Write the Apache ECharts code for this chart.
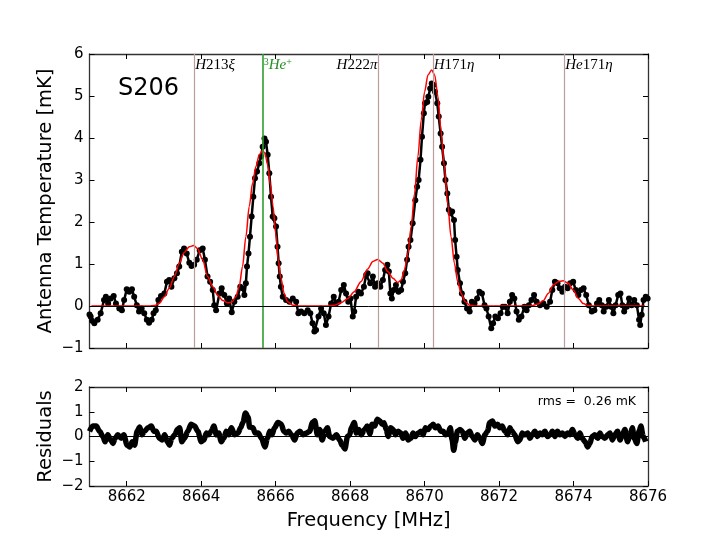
<!DOCTYPE html>
<html>
<head>
<meta charset="utf-8">
<script src="https://cdn.jsdelivr.net/npm/echarts@6.0.0/dist/echarts.min.js"></script>
<style>html,body{margin:0;padding:0;background:#fff;}#c{width:720px;height:540px;}</style>
</head>
<body>
<div id="c"></div>
<script>
// ---------------- data ----------------
const freqTicks = [8662, 8664, 8666, 8668, 8670, 8672, 8674, 8676];
const tempTicksRange = [-1, 6];
const residTicksRange = [-2, 2];

// observed spectrum [MHz, mK]
const spectrum = [
[8661.00,-0.20],[8661.03,-0.25],[8661.07,-0.35],[8661.13,-0.41],[8661.22,-0.33],[8661.30,-0.17],[8661.39,0.14],[8661.44,0.22],[8661.50,0.06],[8661.57,0.18],[8661.65,0.24],[8661.71,0.06],[8661.80,-0.06],[8661.87,-0.10],[8661.93,0.14],[8662.00,0.40],[8662.07,0.34],[8662.14,0.40],[8662.20,0.22],[8662.27,0.02],[8662.33,-0.13],[8662.40,-0.06],[8662.47,-0.17],[8662.54,-0.33],[8662.60,-0.40],[8662.67,-0.33],[8662.72,-0.17],[8662.78,-0.10],[8662.85,0.14],[8662.92,0.24],[8663.01,0.30],[8663.08,0.58],[8663.14,0.62],[8663.20,0.46],[8663.28,0.66],[8663.35,0.78],[8663.41,0.94],[8663.48,1.29],[8663.54,1.37],[8663.61,1.25],[8663.68,1.03],[8663.74,0.95],[8663.81,0.98],[8663.88,1.10],[8663.96,1.33],[8664.04,1.37],[8664.10,1.10],[8664.17,0.70],[8664.24,0.58],[8664.31,0.38],[8664.35,0.02],[8664.40,-0.10],[8664.49,0.30],[8664.55,0.42],[8664.62,0.26],[8664.69,0.06],[8664.75,0.18],[8664.82,-0.15],
[8664.89,0.10],[8664.98,0.22],[8665.05,0.46],[8665.11,0.42],[8665.16,0.26],[8665.20,0.54],[8665.23,0.94],[8665.27,1.25],[8665.31,1.65],[8665.355,2.13],[8665.40,2.60],[8665.445,3.04],[8665.50,3.20],[8665.56,3.40],[8665.61,3.56],[8665.65,3.79],[8665.70,3.99],[8665.74,3.91],[8665.785,3.60],[8665.83,3.16],[8665.875,2.60],[8665.92,2.13],[8665.965,2.09],[8666.01,1.89],[8666.05,1.41],[8666.08,1.02],[8666.11,0.70],[8666.14,0.46],[8666.19,0.22],[8666.28,0.14],[8666.37,0.10],[8666.46,0.18],[8666.55,0.10],[8666.61,-0.17],[8666.68,-0.13],[8666.77,-0.17],[8666.86,-0.10],[8666.93,-0.17],[8666.99,-0.41],[8667.04,-0.61],[8667.085,-0.57],[8667.15,-0.25],[8667.22,-0.06],[8667.29,-0.17],[8667.35,-0.45],[8667.42,-0.25],[8667.49,0.06],[8667.56,0.22],[8667.62,0.06],[8667.69,0.10],[8667.76,0.38],[8667.83,0.50],[8667.89,0.30],[8667.95,0.10],[8668.01,0.18],[8668.07,-0.25],[8668.11,-0.13],[8668.16,0.22],[8668.22,0.34],[8668.29,0.30],[8668.37,0.46],[8668.43,0.74],
[8668.47,0.78],[8668.54,0.54],[8668.61,0.70],[8668.67,0.46],[8668.74,0.54],[8668.81,0.46],[8668.88,0.62],[8668.94,0.86],[8669.00,0.98],[8669.04,0.82],[8669.08,0.30],[8669.12,0.18],[8669.17,0.38],[8669.23,0.50],[8669.30,0.34],[8669.37,0.38],[8669.42,0.58],[8669.48,0.78],[8669.53,1.10],[8669.57,1.41],[8669.62,1.57],[8669.68,1.97],[8669.75,2.52],[8669.80,2.84],[8669.84,3.00],[8669.89,3.48],[8669.93,4.03],[8669.98,4.59],[8670.01,4.83],[8670.07,4.86],[8670.10,4.98],[8670.15,5.18],[8670.19,5.30],[8670.24,5.26],[8670.28,5.10],[8670.34,4.83],[8670.38,4.51],[8670.43,4.11],[8670.47,3.79],[8670.52,3.40],[8670.56,3.00],[8670.61,2.68],[8670.65,2.29],[8670.70,2.21],[8670.74,2.25],[8670.79,2.05],[8670.82,1.57],[8670.86,1.17],[8670.89,0.86],[8670.95,0.54],[8671.00,0.30],[8671.07,0.10],[8671.14,-0.06],[8671.21,-0.13],[8671.27,0.10],[8671.34,0.06],[8671.41,0.18],[8671.47,0.34],[8671.54,0.30],[8671.61,0.02],[8671.66,-0.06],[8671.72,-0.25],[8671.79,-0.53],[8671.84,-0.41],[8671.90,-0.25],[8671.97,-0.29],[8672.04,-0.17],[8672.10,-0.02],
[8672.16,-0.02],[8672.23,-0.17],[8672.29,0.10],[8672.35,0.26],[8672.41,0.18],[8672.47,-0.13],[8672.53,-0.33],[8672.60,-0.25],[8672.68,-0.02],[8672.74,-0.10],[8672.80,0.02],[8672.87,0.14],[8672.94,0.26],[8673.01,0.10],[8673.10,0.02],[8673.19,0.06],[8673.28,-0.02],[8673.37,0.10],[8673.43,0.38],[8673.50,0.58],[8673.57,0.54],[8673.63,0.42],[8673.70,0.34],[8673.77,0.46],[8673.84,0.42],[8673.91,0.54],[8673.99,0.58],[8674.06,0.38],[8674.13,0.26],[8674.20,0.38],[8674.27,0.42],[8674.34,0.26],[8674.41,0.02],[8674.49,-0.13],[8674.56,-0.10],[8674.63,0.06],[8674.69,0.14],[8674.76,0.02],[8674.81,-0.13],[8674.88,-0.02],[8674.95,0.14],[8675.01,-0.02],[8675.07,-0.17],[8675.13,0.02],[8675.20,0.26],[8675.26,0.30],[8675.31,0.02],[8675.36,-0.13],[8675.43,-0.02],[8675.49,0.18],[8675.56,0.02],[8675.63,0.14],[8675.70,0.02],[8675.76,-0.33],[8675.79,-0.45],[8675.83,-0.21],[8675.88,0.14],[8675.94,0.22],[8675.99,0.18]
];

// fitted model (red) [MHz, mK]
const fitModel = [
[8661.05,0],[8662.60,0],[8662.74,0.01],[8662.87,0.06],[8663.01,0.22],[8663.14,0.42],[8663.28,0.70],[8663.41,1.02],[8663.54,1.27],[8663.68,1.41],[8663.80,1.44],[8663.90,1.37],[8664.04,1.10],[8664.17,0.70],[8664.31,0.46],[8664.44,0.26],[8664.58,0.13],[8664.71,0.08],[8664.82,0.09],[8664.93,0.22],[8665.02,0.46],[8665.11,0.94],[8665.20,1.65],[8665.29,2.37],[8665.38,2.92],[8665.47,3.32],[8665.56,3.60],[8665.65,3.70],[8665.71,3.64],[8665.785,3.36],[8665.86,2.88],[8665.93,2.37],[8666.00,1.73],[8666.07,1.10],[8666.14,0.66],[8666.23,0.30],[8666.32,0.10],[8666.46,0.02],[8666.60,0],[8667.40,0],[8667.58,0.02],[8667.76,0.08],[8667.94,0.18],[8668.11,0.34],[8668.29,0.58],[8668.47,0.88],[8668.61,1.06],[8668.74,1.11],[8668.88,1.02],[8669.01,0.82],[8669.15,0.66],[8669.28,0.56],[8669.37,0.62],[8669.46,0.86],[8669.55,1.25],[8669.64,1.89],[8669.73,2.68],[8669.82,3.56],[8669.91,4.43],[8670.00,5.10],[8670.09,5.50],[8670.19,5.62],[8670.27,5.50],[8670.36,4.98],[8670.44,4.19],[8670.53,3.32],[8670.62,2.44],[8670.71,1.65],[8670.80,1.02],[8670.89,0.58],[8670.98,0.30],[8671.09,0.10],[8671.21,0.02],[8671.35,0],[8672.85,0],[8673.05,0.05],[8673.19,0.13],[8673.32,0.30],[8673.46,0.50],[8673.59,0.58],[8673.72,0.60],[8673.86,0.54],[8673.99,0.38],[8674.13,0.18],[8674.26,0.06],[8674.40,0.01],[8674.55,0],[8675.92,0]
];

// residuals [MHz, mK]
const residuals = [
[8661.00,0.21],[8661.09,0.42],[8661.18,0.42],[8661.27,0.21],[8661.36,0],[8661.42,-0.21],[8661.49,0.07],[8661.57,-0.14],[8661.63,-0.28],[8661.69,-0.07],[8661.76,0.07],[8661.85,-0.07],[8661.92,0.07],[8662.01,-0.35],[8662.08,-0.42],[8662.15,-0.21],[8662.21,-0.35],[8662.28,0.21],[8662.35,0.38],[8662.41,0.07],[8662.48,0.21],[8662.57,0.35],[8662.66,0.42],[8662.73,0.21],[8662.79,0.21],[8662.88,-0.07],[8662.95,-0.14],[8663.02,0.07],[8663.09,-0.21],[8663.15,-0.35],[8663.21,-0.07],[8663.29,0.07],[8663.36,0.28],[8663.42,0.35],[8663.48,-0.21],[8663.55,-0.07],[8663.64,0.21],[8663.73,0.50],[8663.82,0.42],[8663.91,0.21],[8664.00,-0.21],[8664.07,-0.14],[8664.14,0.14],[8664.20,0.07],[8664.27,0.21],[8664.34,0.42],[8664.41,0.07],[8664.47,0.14],[8664.54,-0.21],[8664.61,-0.07],[8664.67,0.21],[8664.74,0.07],[8664.81,0.35],[8664.90,0.07],[8664.99,0.14],[8665.06,0.35],[8665.12,0.57],[8665.19,0.95],[8665.26,0.78],[8665.30,0.38],[8665.39,0.35],[8665.45,0.14],[8665.53,0.14],[8665.62,-0.07],[8665.71,-0.42],[8665.78,-0.07],[8665.84,0.21],[8665.90,0.07],[8665.97,0.35],[8666.06,0.57],[8666.15,0.50],[8666.22,0.21],[8666.29,0.14],[8666.35,0.21],[8666.42,0.07],[8666.51,-0.14],[8666.58,0.14],[8666.65,0.21],[8666.74,0.07],[8666.83,0.14],[8666.91,0.21],[8666.99,0.57],[8667.05,0.64],[8667.12,0.07],[8667.18,0.28],[8667.25,-0.14],[8667.32,0.21],[8667.39,0.35],[8667.45,0],[8667.54,-0.07],[8667.63,0.07],[8667.72,-0.14],[8667.78,-0.35],[8667.86,-0.50],[8667.93,0],[8667.99,0.07],[8668.03,0.35],[8668.11,0.57],[8668.17,0.14],[8668.23,0.28],[8668.30,0.07],[8668.39,0.28],[8668.46,0.42],[8668.53,0.10],
[8668.59,0.49],[8668.66,0.42],[8668.73,0.70],[8668.80,0.63],[8668.86,0.49],[8668.91,0.56],[8668.97,0.28],[8669.02,0],[8669.09,0.35],[8669.15,0.28],[8669.22,0.07],[8669.29,0.21],[8669.36,0.14],[8669.42,-0.07],[8669.49,0.14],[8669.56,-0.14],[8669.63,-0.07],[8669.69,0.14],[8669.75,0],[8669.83,0.14],[8669.90,0.21],[8669.96,0.07],[8670.02,0.35],[8670.09,0.28],[8670.17,0.42],[8670.23,0.49],[8670.29,0.35],[8670.36,0.42],[8670.44,0.21],[8670.50,0.21],[8670.56,0.07],[8670.63,0.14],[8670.69,0.35],[8670.74,-0.14],[8670.78,-0.56],[8670.83,-0.21],[8670.88,0.21],[8670.95,0.28],[8671.01,0.21],[8671.08,-0.07],[8671.15,0.14],[8671.21,0.21],[8671.28,0],[8671.35,-0.14],[8671.42,0.07],[8671.48,-0.07],[8671.55,-0.28],[8671.62,0.07],[8671.69,0.21],[8671.75,0.56],[8671.82,0.63],[8671.89,0.42],[8671.96,0.49],[8672.02,0.35],[8672.08,0.42],[8672.16,0.21],[8672.23,0.07],[8672.29,0.35],[8672.35,0.21],[8672.42,0.07],[8672.50,-0.21],[8672.56,-0.14],[8672.62,0.14],[8672.69,0.07],[8672.77,0.14],[8672.83,-0.07],[8672.89,0.07],[8672.96,0.21],[8673.03,0],[8673.10,0.14],[8673.16,0.07],[8673.23,0.21],[8673.30,0],[8673.37,0.07],[8673.43,0.21],[8673.50,0],[8673.57,0.21],[8673.63,0.07],[8673.70,0.14],[8673.77,0],[8673.84,0.14],[8673.90,0.07],[8673.97,0.28],[8674.04,0.07],[8674.11,-0.07],[8674.17,0.14],[8674.23,-0.07],[8674.31,-0.21],[8674.38,-0.42],[8674.44,-0.28],[8674.50,0],[8674.57,0.07],[8674.65,-0.07],[8674.71,0.14],[8674.77,0],[8674.84,-0.07],[8674.92,0.07],[8674.98,0.14],[8675.04,-0.14],[8675.11,0.07],[8675.18,0.21],[8675.25,-0.14],[8675.31,0.07],[8675.38,0.28],[8675.45,-0.21],[8675.52,0.07],[8675.58,0.35],[8675.63,-0.07],[8675.70,-0.28],[8675.76,0.21],[8675.81,0.42],[8675.87,0],[8675.94,-0.21]
];

// spectral line markers
const lineFreqs  = [8663.81, 8665.65, 8668.76, 8670.22, 8673.75];
const lineLabels = ['{i|H}{r|213}{i|ξ}', '{gs|3}{gi|He}{gs|+}', '{i|H}{r|222}{i|π}', '{i|H}{r|171}{i|η}', '{i|He}{r|171}{i|η}'];
const lineIsHe3  = [false, true, false, false, false];
const labelSide  = ['right', 'right', 'left', 'right', 'right'];
const sourceName = 'S206';
const rmsText = 'rms =  0.26 mK';
const yNameTop = 'Antenna Temperature [mK]';
const yNameBottom = 'Residuals';
const xName = 'Frequency [MHz]';

// ---------------- chart ----------------
const SANS = 'DejaVu Sans';
const SERIF = 'Liberation Serif';
const minusFmt = v => String(v).replace('-', '\u2212');
const roseColor = '#bb9d9d';
const greenColor = '#2f9e2f';
const frameColor = '#333';

function xAx(grid, pos, labels) {
  return {
    type: 'value', gridIndex: grid, position: pos, min: 8661, max: 8676,
    axisLine: { show: true, onZero: false, lineStyle: { color: frameColor, width: 1.3 } },
    axisTick: { show: true, inside: true, length: 5, customValues: freqTicks, lineStyle: { color: '#000', width: 1 } },
    axisLabel: { show: labels, customValues: freqTicks, margin: 4, color: '#000', fontFamily: SANS, fontSize: 15, formatter: minusFmt },
    splitLine: { show: false }
  };
}
function yAx(grid, pos, range, labels) {
  return {
    type: 'value', gridIndex: grid, position: pos, min: range[0], max: range[1], interval: 1,
    axisLine: { show: true, onZero: false, lineStyle: { color: frameColor, width: 1.3 } },
    axisTick: { show: true, inside: true, length: 5, lineStyle: { color: '#000', width: 1 } },
    axisLabel: { show: labels, margin: 6, color: '#000', fontFamily: SANS, fontSize: 15, formatter: minusFmt },
    splitLine: { show: false }
  };
}

const xAxes = [xAx(0, 'bottom', false), xAx(0, 'top', false), xAx(1, 'bottom', true), xAx(1, 'top', false)];
xAxes[2].name = xName;
xAxes[2].nameLocation = 'middle';
xAxes[2].nameGap = 25;
xAxes[2].nameTextStyle = { fontFamily: SANS, fontSize: 19.5, color: '#000' };

const yAxes = [yAx(0, 'left', tempTicksRange, true), yAx(0, 'right', tempTicksRange, false),
               yAx(1, 'left', residTicksRange, true), yAx(1, 'right', residTicksRange, false)];

const richStyles = {
  i:  { fontFamily: SERIF, fontStyle: 'italic', fontSize: 15, color: '#000', lineHeight: 16 },
  r:  { fontFamily: SERIF, fontSize: 15, color: '#000', lineHeight: 16 },
  gi: { fontFamily: SERIF, fontStyle: 'italic', fontSize: 15, color: '#1f8f1f', lineHeight: 16 },
  gs: { fontFamily: SERIF, fontSize: 10, color: '#1f8f1f', verticalAlign: 'top', lineHeight: 16, padding: [0, 0, 6, 0] }
};

const option = {
  animation: false,
  backgroundColor: '#fff',
  title: [
    { text: sourceName, left: 118, top: 77, padding: 0, textStyle: { fontFamily: SANS, fontSize: 24, fontWeight: 'normal', color: '#000' } },
    { text: rmsText, right: 84, top: 395, padding: 0, textStyle: { fontFamily: SANS, fontSize: 12.5, fontWeight: 'normal', color: '#000' } }
  ],
  graphic: [
    { type: 'text', x: 46, y: 201, rotation: Math.PI / 2, silent: true,
      style: { text: yNameTop, fontFamily: SANS, fontSize: 19.5, fill: '#000', align: 'center', verticalAlign: 'middle' } },
    { type: 'text', x: 46, y: 436.5, rotation: Math.PI / 2, silent: true,
      style: { text: yNameBottom, fontFamily: SANS, fontSize: 19.5, fill: '#000', align: 'center', verticalAlign: 'middle' } }
  ],
  grid: [
    { left: 89.5, right: 72, top: 54, height: 294 },
    { left: 89.5, right: 72, top: 387, height: 99 }
  ],
  xAxis: xAxes,
  yAxis: yAxes,
  series: [
    {
      type: 'scatter', xAxisIndex: 0, yAxisIndex: 0, symbolSize: 0, silent: true, z: 1,
      itemStyle: { opacity: 1 },
      data: lineFreqs.map((f, k) => ({ value: [f, 5.73], label: { formatter: lineLabels[k], position: labelSide[k] } })),
      label: { show: true, position: 'right', distance: 1, color: '#000', opacity: 1, rich: richStyles },
      markLine: {
        silent: true, symbol: ['none', 'none'], label: { show: false },
        data: lineFreqs.map((f, k) => ({ xAxis: f, lineStyle: { color: lineIsHe3[k] ? greenColor : roseColor, width: lineIsHe3[k] ? 1.6 : 1.2, type: 'solid', opacity: 1 } }))
      }
    },
    {
      type: 'line', xAxisIndex: 0, yAxisIndex: 0, data: spectrum, z: 3,
      symbol: 'circle', symbolSize: 6, showSymbol: true, showAllSymbol: true,
      itemStyle: { color: '#000' }, lineStyle: { color: '#000', width: 2.5 },
      markLine: { silent: true, symbol: ['none', 'none'], label: { show: false },
        data: [{ yAxis: 0, lineStyle: { color: '#000', width: 1, type: 'solid' } }] }
    },
    {
      type: 'line', xAxisIndex: 0, yAxisIndex: 0, data: fitModel, z: 4,
      showSymbol: false, smooth: 0.3, smoothMonotone: 'x',
      lineStyle: { color: '#ff0000', width: 1.5 }
    },
    {
      type: 'line', xAxisIndex: 2, yAxisIndex: 2, data: residuals, z: 3,
      showSymbol: false, smooth: 0.3, smoothMonotone: 'x',
      lineStyle: { color: '#000', width: 5.5 },
      markLine: { silent: true, symbol: ['none', 'none'], label: { show: false },
        data: [{ yAxis: 0, lineStyle: { color: '#000', width: 1, type: 'solid' } }] }
    }
  ]
};

const chart = echarts.init(document.getElementById('c'), null, { renderer: 'canvas' });
chart.setOption(option);
</script>
</body>
</html>
